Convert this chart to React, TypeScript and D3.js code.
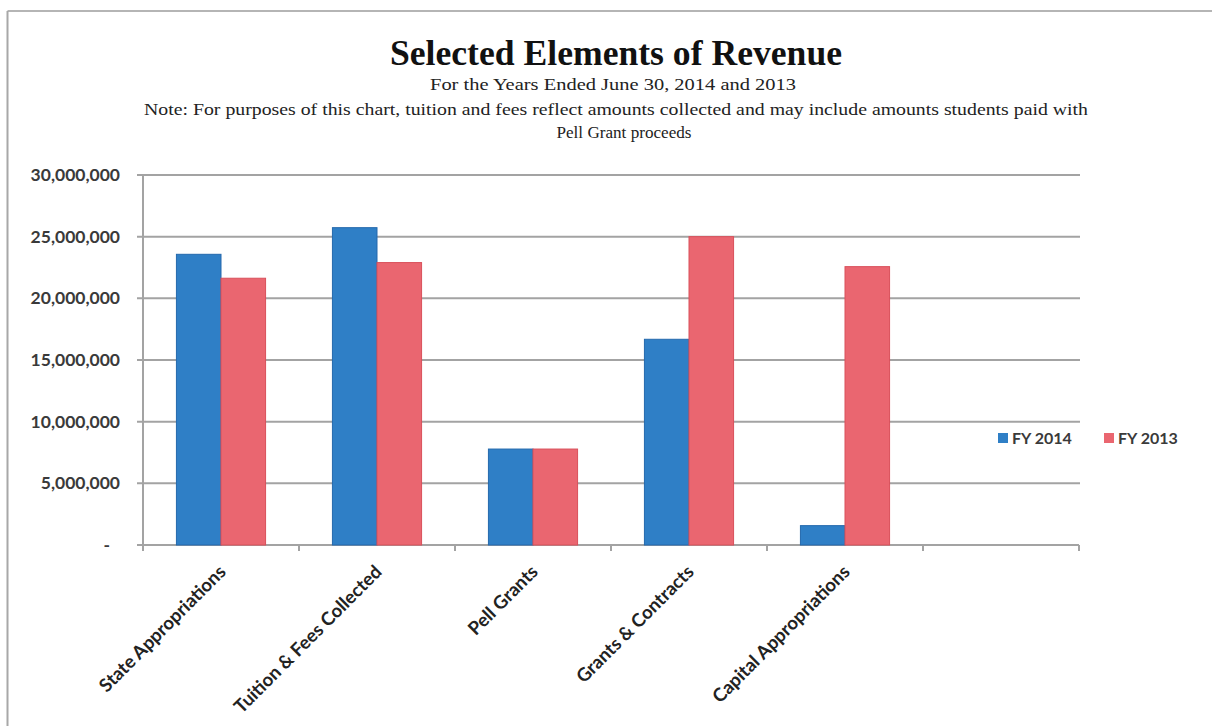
import React from "react";
import * as d3 from "d3";

const categories = [
  "State Appropriations",
  "Tuition & Fees Collected",
  "Pell Grants",
  "Grants & Contracts",
  "Capital Appropriations",
  "",
];
const seriesNames = ["FY 2014", "FY 2013"];
const fy2014 = [23570000, 25730000, 7780000, 16680000, 1570000];
const fy2013 = [21630000, 22900000, 7780000, 25000000, 22570000];
const yTicks = [0, 5000000, 10000000, 15000000, 20000000, 25000000, 30000000];
const seriesColors = ["#2f7fc6", "#ea6670"];
const seriesEdges = ["#2469ad", "#d9505b"];

const W = 1212;
const H = 726;
const PL = 143;
const PR = 1079;
const PT = 175;
const PB = 545;

export default function App() {
  const x0 = d3.scaleBand<string>().domain(categories.map((c, i) => String(i))).range([PL, PR]).padding(0);
  const x1 = d3
    .scaleBand<string>()
    .domain(seriesNames)
    .range([0, x0.bandwidth()])
    .paddingInner(0)
    .paddingOuter(0.75);
  const y = d3.scaleLinear().domain([0, 30000000]).range([PB, PT]);
  const fmt = (v: number) => (v === 0 ? "-" : d3.format(",")(v));
  const seriesData = [fy2014, fy2013];
  const labelFont = "Lato, 'Open Sans', sans-serif";

  return (
    <svg
      width={W}
      height={H}
      style={{ position: "absolute", left: 0, top: 0, background: "#fff" }}
    >
      <rect x={0} y={0} width={W} height={H} fill="#fff" />
      {/* frame */}
      <line x1={7.5} y1={11} x2={W} y2={11} stroke="#b5b5b5" strokeWidth={2} />
      <line x1={7.5} y1={11} x2={7.5} y2={H} stroke="#a8a8a8" strokeWidth={2} />

      {/* titles */}
      <text
        x={616}
        y={65}
        textAnchor="middle"
        fontFamily="'Liberation Serif', 'DejaVu Serif', serif"
        fontWeight="bold"
        fontSize={36}
        textLength={452}
        lengthAdjust="spacingAndGlyphs"
        fill="#111"
      >
        Selected Elements of Revenue
      </text>
      <text
        x={613}
        y={90}
        textAnchor="middle"
        fontFamily="'Liberation Serif', serif"
        fontSize={17}
        textLength={366}
        lengthAdjust="spacingAndGlyphs"
        fill="#222"
      >
        For the Years Ended June 30, 2014  and  2013
      </text>
      <text
        x={616}
        y={115}
        textAnchor="middle"
        fontFamily="'Liberation Serif', serif"
        fontSize={17}
        textLength={944}
        lengthAdjust="spacingAndGlyphs"
        fill="#222"
      >
        Note: For purposes of this chart, tuition and fees reflect amounts collected and may include amounts students paid with
      </text>
      <text
        x={624}
        y={138}
        textAnchor="middle"
        fontFamily="'Liberation Serif', serif"
        fontSize={17}
        textLength={135}
        lengthAdjust="spacingAndGlyphs"
        fill="#222"
      >
        Pell Grant proceeds
      </text>

      {/* gridlines */}
      {yTicks.map((t) => (
        <line
          key={"g" + t}
          x1={PL - 6}
          x2={t === 0 ? PR : PR + 1}
          y1={y(t)}
          y2={y(t)}
          stroke="#a3a3a3"
          strokeWidth={2}
        />
      ))}
      {/* y axis */}
      <line x1={PL} x2={PL} y1={PT} y2={PB + 6} stroke="#a3a3a3" strokeWidth={2} />
      {yTicks.map((t) => (
        <text
          key={"yl" + t}
          x={t === 0 ? 110 : 120}
          y={y(t)}
          dy="0.35em"
          textAnchor="end"
          fontFamily={labelFont}
          fontWeight="bold"
          fontSize={17.5}
          fill="#3a3a3a"
        >
          {fmt(t)}
        </text>
      ))}
      {/* x ticks */}
      {categories.map((c, i) => (
        <line
          key={"xt" + i}
          x1={(x0(String(i)) as number) + x0.bandwidth()}
          x2={(x0(String(i)) as number) + x0.bandwidth()}
          y1={PB}
          y2={PB + 6}
          stroke="#a3a3a3"
          strokeWidth={2}
        />
      ))}

      {/* bars */}
      {seriesData.map((vals, si) =>
        vals.map((v, ci) => {
          const bx = (x0(String(ci)) as number) + (x1(seriesNames[si]) as number);
          const by = y(v);
          return (
            <rect
              key={"b" + si + "-" + ci}
              x={bx}
              y={by}
              width={x1.bandwidth()}
              height={PB - by}
              fill={seriesColors[si]}
              stroke={seriesEdges[si]}
              strokeWidth={1}
            />
          );
        })
      )}

      {/* category labels */}
      {categories.map((c, i) =>
        c ? (
          <text
            key={"xl" + i}
            transform={`translate(${(x0(String(i)) as number) + x0.bandwidth() / 2 + 6},${PB + 28}) rotate(-45)`}
            textAnchor="end"
            fontFamily={labelFont}
            fontWeight="bold"
            fontSize={18.5}
            fill="#222"
          >
            {c}
          </text>
        ) : null
      )}

      {/* legend */}
      {seriesNames.map((s, i) => (
        <g key={"lg" + i} transform={`translate(${998 + i * 106},433)`}>
          <rect x={0} y={0} width={10} height={10} fill={seriesColors[i]} />
          <text
            x={14}
            y={11}
            fontFamily={labelFont}
            fontWeight="bold"
            fontSize={16}
            fill="#3a3a3a"
          >
            {s}
          </text>
        </g>
      ))}
    </svg>
  );
}
